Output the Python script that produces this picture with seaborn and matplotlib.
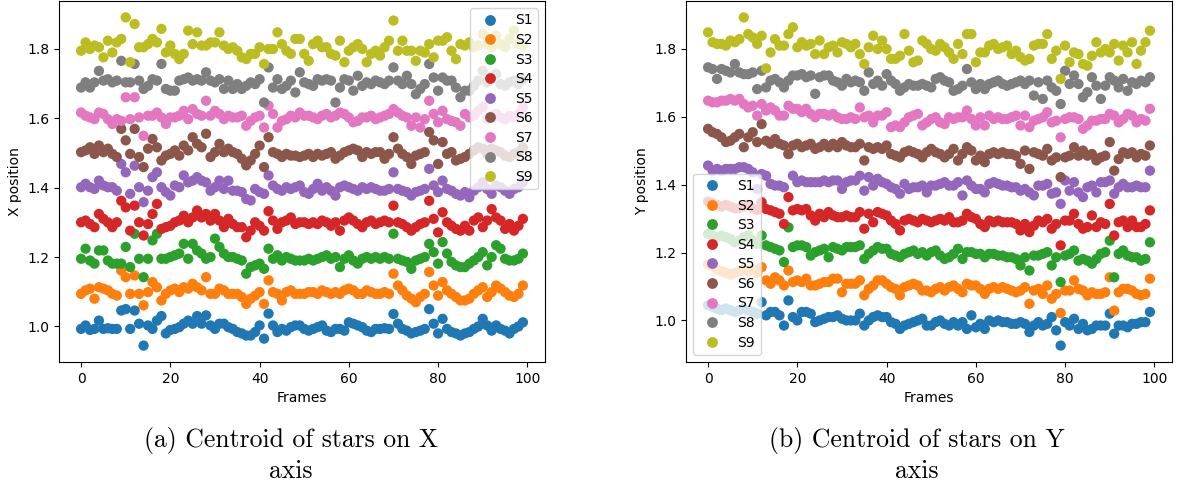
import numpy as np
import pandas as pd
import matplotlib
matplotlib.use("Agg")
import matplotlib.pyplot as plt
import seaborn as sns

# Frame index shared by every star track
frames = np.arange(100)
stars = ["S1", "S2", "S3", "S4", "S5", "S6", "S7", "S8", "S9"]

# Centroid X position per frame
x_s1 = [0.993, 1.003, 0.990, 0.993, 1.017, 0.993, 0.995, 0.993, 0.993, 1.046,
        1.050, 0.993, 1.046, 1.008, 0.945, 1.003, 0.993, 1.017, 1.030, 0.980,
        0.990, 0.993, 0.998, 1.008, 1.017, 1.008, 1.030, 1.008, 1.032, 1.003,
        0.993, 1.008, 1.008, 0.998, 0.993, 0.984, 0.980, 0.974, 0.974, 0.984,
        1.003, 0.965, 1.037, 1.003, 0.984, 0.993, 0.988, 0.998, 1.003, 1.003,
        0.993, 0.988, 0.993, 0.998, 1.003, 0.988, 0.984, 0.993, 0.993, 0.988,
        1.012, 1.008, 1.003, 0.998, 0.988, 0.984, 0.993, 0.993, 0.995, 0.993,
        1.036, 1.008, 0.993, 0.988, 0.980, 0.984, 0.988, 0.993, 1.050, 1.008,
        0.980, 1.022, 0.993, 0.984, 0.980, 0.974, 0.980, 0.984, 0.993, 1.000,
        1.022, 1.003, 0.988, 1.003, 0.993, 0.988, 0.980, 0.993, 1.000, 1.012]
x_s2 = [1.094, 1.104, 1.109, 1.080, 1.113, 1.109, 1.104, 1.094, 1.089, 1.161,
        1.142, 1.094, 1.147, 1.094, 1.061, 1.099, 1.128, 1.113, 1.075, 1.094,
        1.104, 1.109, 1.099, 1.113, 1.109, 1.123, 1.113, 1.104, 1.142, 1.094,
        1.094, 1.109, 1.104, 1.094, 1.094, 1.094, 1.085, 1.065, 1.080, 1.089,
        1.099, 1.065, 1.133, 1.099, 1.094, 1.075, 1.099, 1.104, 1.094, 1.094,
        1.094, 1.099, 1.099, 1.094, 1.104, 1.099, 1.094, 1.099, 1.094, 1.104,
        1.109, 1.104, 1.094, 1.094, 1.104, 1.099, 1.094, 1.094, 1.099, 1.094,
        1.152, 1.118, 1.104, 1.089, 1.080, 1.070, 1.085, 1.094, 1.157, 1.118,
        1.089, 1.128, 1.104, 1.094, 1.085, 1.075, 1.075, 1.080, 1.094, 1.104,
        1.113, 1.085, 1.099, 1.118, 1.109, 1.099, 1.089, 1.085, 1.094, 1.118]
x_s3 = [1.195, 1.224, 1.190, 1.181, 1.219, 1.219, 1.190, 1.181, 1.181, 1.181,
        1.229, 1.171, 1.267, 1.195, 1.142, 1.195, 1.248, 1.267, 1.195, 1.195,
        1.200, 1.205, 1.210, 1.238, 1.195, 1.238, 1.219, 1.210, 1.195, 1.200,
        1.253, 1.229, 1.210, 1.200, 1.200, 1.195, 1.190, 1.152, 1.171, 1.176,
        1.181, 1.166, 1.224, 1.195, 1.205, 1.190, 1.200, 1.195, 1.190, 1.190,
        1.190, 1.195, 1.190, 1.195, 1.200, 1.205, 1.195, 1.200, 1.171, 1.195,
        1.205, 1.190, 1.181, 1.195, 1.200, 1.195, 1.200, 1.195, 1.200, 1.195,
        1.267, 1.195, 1.190, 1.186, 1.166, 1.190, 1.195, 1.200, 1.238, 1.214,
        1.181, 1.243, 1.210, 1.186, 1.176, 1.171, 1.171, 1.181, 1.190, 1.200,
        1.214, 1.176, 1.200, 1.234, 1.224, 1.195, 1.190, 1.190, 1.195, 1.210]
x_s4 = [1.300, 1.305, 1.295, 1.286, 1.324, 1.310, 1.300, 1.286, 1.300, 1.362,
        1.343, 1.276, 1.348, 1.300, 1.262, 1.295, 1.324, 1.353, 1.281, 1.286,
        1.290, 1.300, 1.305, 1.319, 1.300, 1.314, 1.334, 1.314, 1.324, 1.305,
        1.324, 1.305, 1.286, 1.310, 1.295, 1.286, 1.286, 1.257, 1.276, 1.300,
        1.290, 1.276, 1.332, 1.305, 1.281, 1.300, 1.305, 1.314, 1.295, 1.300,
        1.300, 1.295, 1.300, 1.295, 1.305, 1.300, 1.290, 1.300, 1.276, 1.305,
        1.314, 1.305, 1.295, 1.286, 1.300, 1.305, 1.295, 1.300, 1.305, 1.300,
        1.348, 1.300, 1.295, 1.286, 1.276, 1.286, 1.295, 1.300, 1.362, 1.310,
        1.271, 1.329, 1.300, 1.290, 1.281, 1.276, 1.290, 1.276, 1.305, 1.314,
        1.286, 1.305, 1.338, 1.314, 1.305, 1.281, 1.295, 1.276, 1.290, 1.310]
x_s5 = [1.401, 1.411, 1.401, 1.396, 1.420, 1.406, 1.401, 1.401, 1.391, 1.468,
        1.444, 1.382, 1.463, 1.401, 1.358, 1.391, 1.430, 1.444, 1.401, 1.387,
        1.377, 1.406, 1.401, 1.435, 1.415, 1.420, 1.430, 1.420, 1.415, 1.391,
        1.401, 1.420, 1.396, 1.420, 1.391, 1.391, 1.387, 1.367, 1.363, 1.396,
        1.387, 1.382, 1.435, 1.406, 1.396, 1.391, 1.401, 1.396, 1.401, 1.406,
        1.387, 1.382, 1.396, 1.411, 1.391, 1.401, 1.391, 1.377, 1.401, 1.406,
        1.401, 1.396, 1.391, 1.401, 1.396, 1.401, 1.396, 1.391, 1.391, 1.396,
        1.444, 1.396, 1.391, 1.387, 1.377, 1.387, 1.391, 1.396, 1.454, 1.406,
        1.387, 1.420, 1.396, 1.391, 1.382, 1.377, 1.387, 1.372, 1.391, 1.401,
        1.415, 1.396, 1.382, 1.406, 1.401, 1.391, 1.382, 1.396, 1.401, 1.415]
x_s6 = [1.502, 1.507, 1.516, 1.497, 1.521, 1.502, 1.512, 1.497, 1.488, 1.569,
        1.536, 1.497, 1.569, 1.488, 1.459, 1.512, 1.540, 1.516, 1.478, 1.492,
        1.497, 1.507, 1.492, 1.521, 1.507, 1.545, 1.526, 1.516, 1.555, 1.488,
        1.502, 1.526, 1.502, 1.512, 1.502, 1.497, 1.483, 1.464, 1.478, 1.497,
        1.521, 1.459, 1.545, 1.502, 1.497, 1.488, 1.497, 1.492, 1.492, 1.488,
        1.492, 1.497, 1.488, 1.497, 1.492, 1.497, 1.502, 1.483, 1.492, 1.502,
        1.507, 1.512, 1.507, 1.488, 1.502, 1.497, 1.502, 1.502, 1.483, 1.497,
        1.545, 1.512, 1.497, 1.488, 1.468, 1.492, 1.497, 1.502, 1.560, 1.536,
        1.468, 1.531, 1.497, 1.502, 1.478, 1.483, 1.488, 1.497, 1.507, 1.516,
        1.512, 1.497, 1.512, 1.507, 1.502, 1.492, 1.488, 1.497, 1.502, 1.516]
x_s7 = [1.616, 1.607, 1.602, 1.597, 1.616, 1.612, 1.597, 1.583, 1.597, 1.592,
        1.660, 1.597, 1.660, 1.602, 1.549, 1.607, 1.607, 1.616, 1.602, 1.583,
        1.602, 1.602, 1.607, 1.621, 1.597, 1.626, 1.612, 1.607, 1.650, 1.607,
        1.621, 1.612, 1.597, 1.607, 1.602, 1.602, 1.607, 1.578, 1.592, 1.602,
        1.607, 1.573, 1.636, 1.612, 1.573, 1.592, 1.597, 1.607, 1.602, 1.616,
        1.607, 1.607, 1.602, 1.597, 1.607, 1.612, 1.602, 1.607, 1.616, 1.612,
        1.602, 1.588, 1.592, 1.602, 1.602, 1.607, 1.597, 1.602, 1.607, 1.612,
        1.626, 1.616, 1.607, 1.602, 1.578, 1.602, 1.573, 1.597, 1.650, 1.612,
        1.588, 1.621, 1.597, 1.592, 1.588, 1.578, 1.612, 1.602, 1.607, 1.621,
        1.631, 1.597, 1.607, 1.612, 1.602, 1.597, 1.607, 1.602, 1.612, 1.631]
x_s8 = [1.688, 1.703, 1.688, 1.703, 1.736, 1.708, 1.712, 1.703, 1.708, 1.765,
        1.703, 1.703, 1.756, 1.708, 1.684, 1.693, 1.712, 1.708, 1.756, 1.684,
        1.679, 1.679, 1.708, 1.712, 1.717, 1.708, 1.712, 1.708, 1.732, 1.708,
        1.703, 1.712, 1.684, 1.708, 1.684, 1.698, 1.684, 1.693, 1.703, 1.698,
        1.712, 1.645, 1.746, 1.688, 1.712, 1.684, 1.693, 1.708, 1.674, 1.732,
        1.703, 1.698, 1.693, 1.712, 1.708, 1.712, 1.708, 1.645, 1.688, 1.712,
        1.708, 1.679, 1.722, 1.693, 1.703, 1.698, 1.708, 1.703, 1.698, 1.708,
        1.746, 1.708, 1.698, 1.722, 1.698, 1.669, 1.684, 1.698, 1.756, 1.717,
        1.679, 1.717, 1.708, 1.708, 1.688, 1.660, 1.679, 1.679, 1.693, 1.708,
        1.736, 1.703, 1.717, 1.727, 1.698, 1.693, 1.703, 1.708, 1.698, 1.712]
x_s9 = [1.794, 1.818, 1.799, 1.809, 1.804, 1.775, 1.823, 1.789, 1.818, 1.828,
        1.890, 1.761, 1.871, 1.804, 1.804, 1.813, 1.828, 1.818, 1.857, 1.789,
        1.809, 1.785, 1.770, 1.785, 1.852, 1.813, 1.847, 1.809, 1.809, 1.818,
        1.818, 1.847, 1.809, 1.799, 1.804, 1.794, 1.775, 1.770, 1.785, 1.785,
        1.804, 1.756, 1.799, 1.799, 1.847, 1.813, 1.794, 1.785, 1.828, 1.828,
        1.785, 1.765, 1.813, 1.823, 1.804, 1.804, 1.785, 1.780, 1.823, 1.761,
        1.794, 1.804, 1.813, 1.799, 1.761, 1.785, 1.794, 1.780, 1.804, 1.823,
        1.881, 1.794, 1.823, 1.794, 1.794, 1.765, 1.794, 1.789, 1.813, 1.775,
        1.823, 1.823, 1.833, 1.794, 1.770, 1.813, 1.809, 1.818, 1.804, 1.809,
        1.842, 1.813, 1.804, 1.838, 1.813, 1.804, 1.828, 1.852, 1.813, 1.809]

# Centroid Y position per frame
y_s1 = [1.045, 1.040, 1.035, 1.030, 1.035, 1.030, 1.025, 1.030, 1.035, 1.030,
        1.025, 1.020, 1.054, 1.015, 1.025, 1.025, 1.015, 0.985, 1.059, 1.010,
        1.000, 1.025, 1.025, 1.020, 0.995, 1.000, 1.005, 1.010, 1.010, 1.015,
        1.005, 1.000, 1.000, 1.000, 1.020, 0.985, 1.000, 1.010, 1.015, 1.010,
        1.010, 0.995, 0.990, 0.975, 0.985, 0.990, 0.995, 1.000, 1.005, 0.985,
        0.985, 0.995, 1.000, 0.990, 0.985, 0.995, 0.985, 0.995, 0.975, 1.015,
        0.980, 0.990, 0.975, 1.000, 0.995, 1.000, 0.995, 0.995, 0.990, 0.990,
        0.995, 0.990, 0.966, 0.985, 0.995, 0.985, 0.990, 1.010, 0.971, 0.926,
        0.995, 0.985, 1.005, 0.975, 0.990, 0.971, 0.975, 0.985, 0.985, 0.985,
        1.020, 0.961, 0.985, 0.985, 0.980, 0.990, 0.990, 0.995, 0.995, 1.025]
y_s2 = [1.165, 1.160, 1.150, 1.145, 1.140, 1.135, 1.140, 1.145, 1.150, 1.145,
        1.150, 1.140, 1.157, 1.118, 1.108, 1.127, 1.118, 1.103, 1.147, 1.113,
        1.118, 1.113, 1.123, 1.103, 1.103, 1.108, 1.113, 1.113, 1.123, 1.123,
        1.083, 1.108, 1.108, 1.108, 1.118, 1.074, 1.093, 1.103, 1.118, 1.118,
        1.108, 1.098, 1.093, 1.074, 1.098, 1.103, 1.108, 1.103, 1.088, 1.088,
        1.083, 1.093, 1.098, 1.088, 1.098, 1.103, 1.093, 1.083, 1.108, 1.103,
        1.103, 1.093, 1.078, 1.093, 1.098, 1.093, 1.098, 1.093, 1.088, 1.083,
        1.088, 1.098, 1.049, 1.088, 1.093, 1.078, 1.103, 1.064, 1.078, 1.022,
        1.088, 1.088, 1.118, 1.093, 1.088, 1.074, 1.083, 1.078, 1.078, 1.083,
        1.127, 1.029, 1.083, 1.093, 1.093, 1.088, 1.078, 1.074, 1.078, 1.123]
y_s3 = [1.255, 1.250, 1.245, 1.250, 1.245, 1.240, 1.230, 1.235, 1.245, 1.250,
        1.235, 1.225, 1.250, 1.221, 1.216, 1.211, 1.206, 1.172, 1.274, 1.216,
        1.221, 1.221, 1.216, 1.191, 1.201, 1.206, 1.211, 1.186, 1.216, 1.211,
        1.206, 1.216, 1.216, 1.216, 1.221, 1.181, 1.196, 1.206, 1.216, 1.211,
        1.211, 1.196, 1.191, 1.186, 1.196, 1.201, 1.206, 1.196, 1.201, 1.191,
        1.201, 1.206, 1.191, 1.181, 1.186, 1.196, 1.211, 1.181, 1.201, 1.201,
        1.196, 1.196, 1.186, 1.196, 1.196, 1.191, 1.191, 1.186, 1.186, 1.181,
        1.162, 1.186, 1.147, 1.191, 1.191, 1.196, 1.201, 1.162, 1.186, 1.113,
        1.191, 1.196, 1.206, 1.176, 1.181, 1.176, 1.167, 1.181, 1.196, 1.201,
        1.235, 1.127, 1.196, 1.206, 1.191, 1.186, 1.186, 1.176, 1.181, 1.230]
y_s4 = [1.350, 1.345, 1.340, 1.335, 1.340, 1.335, 1.330, 1.330, 1.335, 1.340,
        1.330, 1.325, 1.348, 1.328, 1.324, 1.319, 1.314, 1.284, 1.363, 1.324,
        1.328, 1.324, 1.328, 1.309, 1.294, 1.314, 1.304, 1.319, 1.309, 1.304,
        1.304, 1.309, 1.304, 1.304, 1.319, 1.270, 1.314, 1.289, 1.319, 1.314,
        1.309, 1.294, 1.284, 1.265, 1.294, 1.299, 1.294, 1.289, 1.299, 1.294,
        1.289, 1.294, 1.299, 1.294, 1.304, 1.289, 1.289, 1.294, 1.314, 1.304,
        1.299, 1.284, 1.275, 1.294, 1.289, 1.294, 1.289, 1.289, 1.289, 1.284,
        1.265, 1.284, 1.260, 1.279, 1.294, 1.289, 1.299, 1.270, 1.284, 1.221,
        1.294, 1.294, 1.314, 1.284, 1.270, 1.275, 1.309, 1.275, 1.289, 1.284,
        1.343, 1.250, 1.289, 1.294, 1.275, 1.294, 1.275, 1.275, 1.284, 1.324]
y_s5 = [1.456, 1.441, 1.446, 1.441, 1.446, 1.446, 1.446, 1.451, 1.451, 1.446,
        1.436, 1.387, 1.431, 1.426, 1.402, 1.397, 1.397, 1.392, 1.490, 1.426,
        1.407, 1.412, 1.407, 1.407, 1.407, 1.407, 1.412, 1.407, 1.412, 1.412,
        1.387, 1.407, 1.412, 1.412, 1.426, 1.382, 1.422, 1.397, 1.417, 1.407,
        1.402, 1.392, 1.387, 1.373, 1.402, 1.387, 1.392, 1.392, 1.397, 1.377,
        1.397, 1.397, 1.402, 1.407, 1.397, 1.397, 1.407, 1.368, 1.412, 1.397,
        1.387, 1.387, 1.377, 1.402, 1.407, 1.402, 1.397, 1.397, 1.392, 1.392,
        1.382, 1.387, 1.377, 1.368, 1.397, 1.397, 1.402, 1.373, 1.377, 1.343,
        1.412, 1.382, 1.407, 1.377, 1.363, 1.392, 1.397, 1.377, 1.407, 1.407,
        1.412, 1.373, 1.392, 1.402, 1.392, 1.392, 1.397, 1.392, 1.392, 1.441]
y_s6 = [1.564, 1.554, 1.549, 1.539, 1.525, 1.529, 1.539, 1.549, 1.510, 1.539,
        1.554, 1.525, 1.578, 1.529, 1.520, 1.534, 1.520, 1.515, 1.490, 1.515,
        1.520, 1.510, 1.515, 1.520, 1.505, 1.510, 1.520, 1.510, 1.520, 1.510,
        1.525, 1.515, 1.510, 1.510, 1.520, 1.471, 1.510, 1.505, 1.510, 1.505,
        1.515, 1.490, 1.485, 1.480, 1.495, 1.500, 1.495, 1.490, 1.480, 1.495,
        1.505, 1.495, 1.490, 1.480, 1.490, 1.505, 1.471, 1.490, 1.510, 1.500,
        1.471, 1.485, 1.466, 1.490, 1.495, 1.490, 1.495, 1.490, 1.490, 1.485,
        1.461, 1.500, 1.446, 1.495, 1.490, 1.485, 1.505, 1.471, 1.480, 1.422,
        1.480, 1.485, 1.510, 1.485, 1.500, 1.485, 1.490, 1.471, 1.480, 1.485,
        1.525, 1.441, 1.475, 1.495, 1.490, 1.495, 1.480, 1.490, 1.485, 1.515]
y_s7 = [1.647, 1.642, 1.642, 1.647, 1.647, 1.652, 1.647, 1.652, 1.637, 1.627,
        1.632, 1.603, 1.637, 1.618, 1.627, 1.618, 1.603, 1.603, 1.632, 1.623,
        1.623, 1.613, 1.623, 1.608, 1.598, 1.608, 1.608, 1.603, 1.608, 1.598,
        1.593, 1.593, 1.598, 1.593, 1.627, 1.598, 1.603, 1.583, 1.603, 1.603,
        1.613, 1.569, 1.574, 1.569, 1.583, 1.598, 1.603, 1.608, 1.574, 1.583,
        1.593, 1.598, 1.583, 1.578, 1.598, 1.593, 1.598, 1.598, 1.618, 1.593,
        1.574, 1.598, 1.574, 1.603, 1.593, 1.598, 1.593, 1.593, 1.598, 1.603,
        1.574, 1.603, 1.569, 1.588, 1.593, 1.598, 1.613, 1.583, 1.588, 1.539,
        1.593, 1.598, 1.598, 1.593, 1.564, 1.574, 1.588, 1.588, 1.593, 1.593,
        1.608, 1.603, 1.583, 1.593, 1.608, 1.603, 1.583, 1.593, 1.588, 1.623]
y_s8 = [1.745, 1.740, 1.711, 1.740, 1.735, 1.730, 1.755, 1.730, 1.725, 1.725,
        1.730, 1.681, 1.735, 1.686, 1.706, 1.711, 1.701, 1.686, 1.706, 1.721,
        1.721, 1.725, 1.716, 1.721, 1.667, 1.716, 1.721, 1.721, 1.706, 1.701,
        1.691, 1.711, 1.701, 1.706, 1.701, 1.676, 1.730, 1.696, 1.706, 1.691,
        1.725, 1.706, 1.696, 1.676, 1.686, 1.696, 1.691, 1.691, 1.696, 1.691,
        1.686, 1.711, 1.716, 1.706, 1.701, 1.676, 1.681, 1.691, 1.740, 1.701,
        1.681, 1.696, 1.681, 1.696, 1.701, 1.706, 1.696, 1.691, 1.696, 1.701,
        1.706, 1.696, 1.706, 1.662, 1.701, 1.652, 1.706, 1.686, 1.676, 1.637,
        1.735, 1.696, 1.721, 1.696, 1.657, 1.672, 1.716, 1.691, 1.652, 1.691,
        1.716, 1.706, 1.686, 1.711, 1.676, 1.701, 1.696, 1.706, 1.701, 1.716]
y_s9 = [1.848, 1.819, 1.814, 1.814, 1.809, 1.824, 1.819, 1.828, 1.892, 1.843,
        1.833, 1.814, 1.838, 1.742, 1.789, 1.828, 1.809, 1.809, 1.843, 1.863,
        1.804, 1.819, 1.809, 1.814, 1.784, 1.824, 1.784, 1.804, 1.809, 1.789,
        1.819, 1.814, 1.804, 1.814, 1.784, 1.755, 1.804, 1.838, 1.799, 1.824,
        1.799, 1.770, 1.770, 1.779, 1.843, 1.794, 1.760, 1.765, 1.824, 1.814,
        1.799, 1.794, 1.814, 1.804, 1.789, 1.770, 1.814, 1.784, 1.843, 1.843,
        1.760, 1.789, 1.789, 1.809, 1.814, 1.799, 1.804, 1.809, 1.784, 1.794,
        1.775, 1.765, 1.770, 1.809, 1.814, 1.814, 1.843, 1.770, 1.794, 1.711,
        1.809, 1.760, 1.789, 1.784, 1.755, 1.750, 1.779, 1.819, 1.789, 1.799,
        1.789, 1.814, 1.765, 1.809, 1.789, 1.819, 1.755, 1.794, 1.819, 1.853]

x_tracks = [x_s1, x_s2, x_s3, x_s4, x_s5, x_s6, x_s7, x_s8, x_s9]
y_tracks = [y_s1, y_s2, y_s3, y_s4, y_s5, y_s6, y_s7, y_s8, y_s9]


def long_table(tracks):
    return pd.DataFrame({
        "frame": np.tile(frames, len(tracks)),
        "pos": np.concatenate([np.asarray(t, dtype=float) for t in tracks]),
        "star": np.repeat(stars, len(frames)),
    })


W, H = 1183, 486
fig = plt.figure(figsize=(W / 100, H / 100), dpi=100)
ax_x = fig.add_axes([59 / W, (H - 362) / H, 486 / W, 361 / H])
ax_y = fig.add_axes([686 / W, (H - 362) / H, 486 / W, 361 / H])

palette = sns.color_palette("tab10", len(stars))

panels = [
    (ax_x, x_tracks, "X position", "upper right"),
    (ax_y, y_tracks, "Y position", "lower left"),
]
for ax, tracks, ylabel, loc in panels:
    sns.scatterplot(data=long_table(tracks), x="frame", y="pos", hue="star",
                    hue_order=stars, palette=palette, s=55, linewidth=0,
                    edgecolor="none", alpha=1.0, ax=ax)
    ax.set_xlabel("Frames", fontsize=10)
    ax.set_ylabel(ylabel, fontsize=10)
    ax.set_xticks([0, 20, 40, 60, 80, 100])
    ax.set_yticks([1.0, 1.2, 1.4, 1.6, 1.8])
    ax.tick_params(labelsize=10)
    sns.move_legend(ax, loc, title=None, frameon=True, fontsize=10,
                    markerscale=1.05, labelspacing=0.4)

# Sub-figure captions
cap_font = dict(family="cmr10", fontsize=18.5, ha="center", va="baseline")
fig.text(291 / W, (H - 447) / H, "(a) Centroid of stars on X", **cap_font)
fig.text(291 / W, (H - 478) / H, "axis", **cap_font)
fig.text(917 / W, (H - 447) / H, "(b) Centroid of stars on Y", **cap_font)
fig.text(917 / W, (H - 478) / H, "axis", **cap_font)

fig.savefig("out.png", dpi=100)
